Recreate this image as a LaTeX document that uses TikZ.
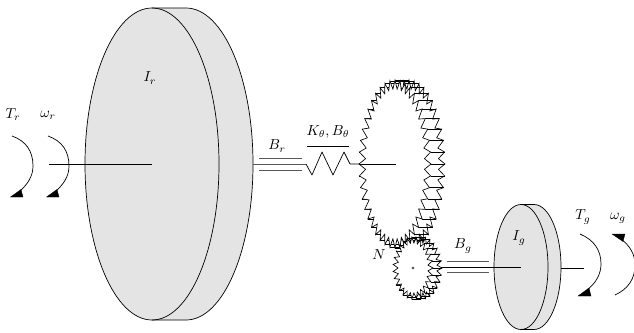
\documentclass[tikz,border=0pt]{standalone}
\usepackage{amsmath}
\definecolor{diskgrey}{HTML}{E4E4E4}
\tikzset{
  edge/.style={draw=black,line width=0.7pt,line join=round},
  gearline/.style={draw=black,line width=0.65pt,line join=miter},
  shaft/.style={draw=black,line width=0.7pt},
  damp/.style={draw=black!65,line width=0.9pt},
  head/.style={fill=black,draw=black,line width=0.3pt},
  lab/.style={inner sep=0pt,scale=1.45}
}
% #1 cx, #2 cy, #3 root rx, #4 root ry, #5 depth, #6 teeth, #7 tooth height x, #8 tooth height y
\newcommand{\gearshape}[8]{%
  \pgfmathsetmacro{\gstep}{180/#6}%
  \pgfmathtruncatemacro{\glast}{2*#6-1}%
  \draw[gearline] ({#1+#5+#3+#7},#2)
    \foreach \i in {1,...,\glast}{
      -- ({#1+#5+(#3+#7*(1-mod(\i,2)))*cos(\i*\gstep)},{#2+(#4+#8*(1-mod(\i,2)))*sin(\i*\gstep)})
    } -- cycle;
  \pgfmathtruncatemacro{\gtips}{#6-1}%
  \foreach \j in {0,...,\gtips}{
    \draw[gearline]
      ({#1+(#3+#7)*cos(2*\j*\gstep)},{#2+(#4+#8)*sin(2*\j*\gstep)})
      -- ++(#5,0);
  }
  \filldraw[gearline,fill=white] ({#1+#3+#7},#2)
    \foreach \i in {1,...,\glast}{
      -- ({#1+(#3+#7*(1-mod(\i,2)))*cos(\i*\gstep)},{#2+(#4+#8*(1-mod(\i,2)))*sin(\i*\gstep)})
    } -- cycle;
}
% #1 cx, #2 cy, #3 rx, #4 ry, #5 depth
\newcommand{\diskshape}[5]{%
  \filldraw[edge,fill=diskgrey] (#1,#2-#4) -- ({#1+#5},#2-#4)
    arc[start angle=-90,end angle=90,x radius=#3,y radius=#4] -- (#1,#2+#4)
    arc[start angle=90,end angle=270,x radius=#3,y radius=#4] -- cycle;
  \draw[edge] (#1,#2-#4) arc[start angle=-90,end angle=90,x radius=#3,y radius=#4];
}
\begin{document}
\begin{tikzpicture}[x=1pt,y=-1pt]
\useasboundingbox (0,0) rectangle (634,332);
% large gear
\gearshape{395}{164}{29.5}{75}{14}{44}{6.5}{9}
% small gear
\gearshape{413}{268}{15}{25}{9}{27}{5}{6}
\filldraw[draw=black,fill=white,line width=0.4pt] (413,268) circle (1.2);
% large disk
\coordinate (rc) at (152,164);
\coordinate (rin) at (49,164);
\coordinate (rout) at (253,164);
\diskshape{152}{164}{67}{156}{34}
\draw[shaft] (rin) -- (rc);
% small disk
\coordinate (gc) at (521,267);
\coordinate (gin) at (441,267);
\coordinate (gout) at (561,268);
\coordinate (gend) at (584,268);
\diskshape{521}{267}{27}{62.5}{13}
\draw[shaft] (gin) -- (gc);
\draw[shaft] (gout) -- (gend);
% rotor damper and spring
\coordinate (sa) at (306,164);
\coordinate (gl) at (359,164);
\coordinate (gr) at (396,164);
\coordinate (brt0) at (259,158);\coordinate (brt1) at (302,158);
\coordinate (brb0) at (259,170);\coordinate (brb1) at (302,170);
\draw[damp] (rout) -- (sa);
\draw[damp] (brt0) -- (brt1);
\draw[damp] (brb0) -- (brb1);
\draw[edge] (sa) -- (312,175) -- (322,152) -- (333,175) -- (344,152) -- (350,164) -- (gl);
\draw[shaft] (gl) -- (gr);
\coordinate (kb0) at (307,146);\coordinate (kb1) at (349,146);
\draw[shaft] (kb0) -- (kb1);
% generator damper
\coordinate (bgt0) at (447,261);\coordinate (bgt1) at (489,261);
\coordinate (bgb0) at (447,272);\coordinate (bgb1) at (489,272);
\draw[damp] (bgt0) -- (bgt1);
\draw[damp] (bgb0) -- (bgb1);
% torque arrows
\draw[edge] (12,136) .. controls (26,141) and (33,151) .. (33,166) .. controls (33,176) and (28,184) .. (19,192);
\filldraw[head] (10.5,197) -- (23,197) -- (21,189.5) -- cycle;
\draw[edge] (48,136) .. controls (62,141) and (69,151) .. (69,166) .. controls (69,176) and (64,184) .. (55,192);
\filldraw[head] (46.5,197) -- (59,197) -- (57,189.5) -- cycle;
\draw[edge] (580,234) .. controls (594,240) and (601,250) .. (601,264) .. controls (601,274) and (596,283) .. (587,290);
\filldraw[head] (578,296) -- (591,296) -- (589,288) -- cycle;
\draw[edge] (615,295) .. controls (628,289) and (635,279) .. (635,265) .. controls (635,254) and (630,246) .. (621,239);
\filldraw[head] (612,234) -- (625,234) -- (623,241.5) -- cycle;
% labels
\node[lab] (Ir) at (150,78) {$I_r$};
\node[lab] (Tr) at (13,114.5) {$T_r$};
\node[lab] (wr) at (48,115.5) {$\omega_r$};
\node[lab] (Br) at (277,146) {$B_r$};
\node[lab] (K) at (328,132) {$K_\theta,B_\theta$};
\node[lab] (N) at (379,255) {$N$};
\node[lab] (Bg) at (463,246) {$B_g$};
\node[lab] (Ig) at (519,238) {$I_g$};
\node[lab] (Tg) at (583,217) {$T_g$};
\node[lab] (wg) at (618,218) {$\omega_g$};
\end{tikzpicture}
\end{document}
